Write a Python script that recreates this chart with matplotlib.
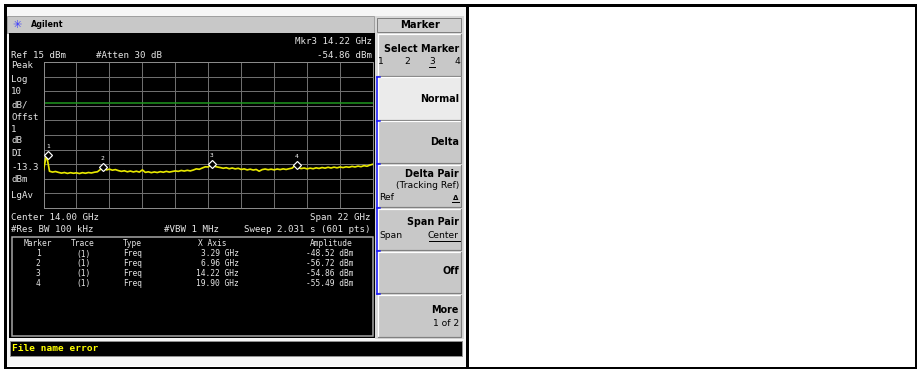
import numpy as np
import matplotlib
matplotlib.use("Agg")
import matplotlib.pyplot as plt
from matplotlib.patches import Rectangle

# Trace (dBm), one value every 0.2 GHz from 3 to 25 GHz
trace_dbm = [
    -59.0, -48.5, -59.8, -60.4, -60.0, -60.6, -61.1, -60.7, -61.3, -60.8,
    -61.2, -60.9, -61.4, -60.8, -61.2, -60.7, -61.0, -60.5, -60.2, -58.6,
    -57.0, -58.9, -58.4, -59.1, -58.7, -59.4, -59.9, -59.5, -60.2, -59.7,
    -60.3, -59.8, -60.4, -58.9, -60.6, -60.2, -60.8, -60.3, -60.7, -60.1,
    -60.5, -59.9, -60.4, -60.0, -59.6, -59.9, -59.3, -59.7, -59.2, -59.6,
    -59.0, -58.2, -58.5, -57.6, -56.8, -56.9, -55.2, -56.4, -56.9, -57.3,
    -57.8, -57.4, -58.1, -57.6, -58.2, -57.8, -58.6, -58.2, -58.9, -58.4,
    -59.0, -58.6, -59.8, -58.7, -58.3, -58.8, -58.4, -58.9, -58.3, -58.7,
    -58.2, -58.6, -58.1, -57.7, -55.8, -57.3, -58.0, -57.6, -58.2, -57.7,
    -58.1, -57.5, -57.9, -57.3, -57.7, -57.1, -57.6, -57.0, -57.5, -56.9,
    -57.3, -56.8, -57.1, -56.5, -56.9, -56.3, -56.7, -56.0, -56.4, -55.6,
    -55.0,
]
start_ghz, stop_ghz = 3.0, 25.0
ref_level = 15
db_per_div = 10
display_line = -13.3

marker_ids = [1, 2, 3, 4]
marker_freq = [3.29, 6.96, 14.22, 19.90]
marker_amp = [-48.52, -56.72, -54.86, -55.49]

left_labels = ["Peak", "Log", "10", "dB/", "Offst", "1", "dB", "DI", "-13.3", "dBm", "LgAv"]
table_headers = ["Marker", "Trace", "Type", "X Axis", "Amplitude"]

W, H = 917, 369
fig = plt.figure(figsize=(W / 100, H / 100), dpi=100)
fig.patch.set_facecolor("white")
ax = fig.add_axes([0, 0, 1, 1])
ax.set_xlim(0, W)
ax.set_ylim(H, 0)
ax.axis("off")

MONO = "DejaVu Sans Mono"
SANS = "DejaVu Sans"
SCR = "#e6e6e6"


def box(x0, y0, x1, y1, fc, ec="none", lw=0, z=1):
    ax.add_patch(Rectangle((x0, y0), x1 - x0, y1 - y0, fc=fc, ec=ec, lw=lw, zorder=z))


def px(n):
    return n * 0.72


# screenshot background, title bar, display
box(6, 6, 466, 366, "#f6f6f6")
box(7, 16, 374, 33, "#c8c8c8", "#a0a0a0", px(1))
box(9, 33, 375, 338, "black")
box(375, 16, 464, 339, "#d8d8d8")

ax.text(17, 24.5, "\u2733", color="#3a3aff", fontsize=8, ha="center", va="center")
ax.text(31, 24.5, "Agilent", family=SANS, weight="bold", fontsize=5.8, va="center")

# softkey panel
box(377, 18, 461, 32, "#d0d0d0", "#808080", px(1))
ax.text(420, 25, "Marker", family=SANS, weight="bold", fontsize=7.2, ha="center", va="center")
buttons = [(34, 76), (77, 120), (121, 163), (165, 207), (209, 250), (252, 293), (295, 337)]
for i, (t, b) in enumerate(buttons):
    box(378, t, 461, b, "#ebebeb" if i == 1 else "#c8c8c8", z=2)
    ax.plot([378, 378, 461], [b, t, t], color="white", lw=px(1.2), zorder=3)
    ax.plot([378, 461, 461], [b, b, t], color="#808080", lw=px(1.2), zorder=3)

bkw = dict(family=SANS, weight="bold", fontsize=6.9, va="center", zorder=4)
rkw = dict(family=SANS, fontsize=6.6, va="center", zorder=4)
ax.text(459, 49, "Select Marker", ha="right", **bkw)
for n, xx in zip(marker_ids, [381, 407, 432, 457]):
    ax.text(xx, 61.5, str(n), ha="center", **rkw)
ax.plot([429, 435], [67, 67], color="black", lw=px(1), zorder=4)
ax.text(459, 99, "Normal", ha="right", **bkw)
ax.text(459, 142, "Delta", ha="right", **bkw)
ax.text(459, 174, "Delta Pair", ha="right", **bkw)
ax.text(459, 186, "(Tracking Ref)", ha="right", **rkw)
ax.text(379, 198, "Ref", ha="left", **rkw)
ax.text(458, 198, "\u0394", ha="right", family=SANS, weight="bold", fontsize=5,
        va="center", zorder=4)
ax.plot([452, 459], [202, 202], color="black", lw=px(1), zorder=4)
ax.text(459, 222, "Span Pair", ha="right", **bkw)
ax.text(379, 236, "Span", ha="left", **rkw)
ax.text(459, 236, "Center", ha="right", **rkw)
ax.plot([429, 460], [241, 241], color="black", lw=px(1), zorder=4)
ax.text(459, 271, "Off", ha="right", **bkw)
ax.text(459, 310, "More", ha="right", **bkw)
ax.text(459, 323, "1 of 2", ha="right", **rkw)

# blue bracket beside the active keys
ax.plot([376.5, 376.5], [77, 294], color="#1010ff", lw=px(1.5), zorder=5)
for t in [77, 120.5, 164, 208, 251, 294]:
    ax.plot([376.5, 380], [t, t], color="#1010ff", lw=px(1.5), zorder=5)

# status bar
box(10, 341, 462, 356, "black", "#909090", px(1))
ax.text(12, 348.5, "File name error", family=MONO, weight="bold", fontsize=6.8,
        color="#ffff00", va="center")

# outer frame and divider
ax.add_patch(Rectangle((4.5, 4.5), 911, 363, fc="none", ec="black", lw=px(3), zorder=10))
ax.plot([466.5, 466.5], [4.5, 367.5], color="black", lw=px(3), zorder=10)

# screen annotations
skw = dict(family=MONO, fontsize=6.6, color=SCR, va="center")
ax.text(372, 42, "Mkr3 14.22 GHz", ha="right", **skw)
ax.text(11, 55, "Ref 15 dBm", ha="left", **skw)
ax.text(96, 55, "#Atten 30 dB", ha="left", **skw)
ax.text(372, 55, "%.2f dBm" % marker_amp[2], ha="right", **skw)
for lab, yy in zip(left_labels, [66, 79.5, 91.5, 104.5, 117.5, 129.5, 140.5, 153, 167, 179.5, 195]):
    ax.text(11, yy, lab, ha="left", **skw)
ax.text(11, 217, "Center 14.00 GHz", ha="left", **skw)
ax.text(371, 217, "Span 22 GHz", ha="right", **skw)
ax.text(11, 229.5, "#Res BW 100 kHz", ha="left", **skw)
ax.text(164, 229.5, "#VBW 1 MHz", ha="left", **skw)
ax.text(370, 229.5, "Sweep 2.031 s (601 pts)", ha="right", **skw)

# marker table
box(12, 237, 373, 336, "none", "#a8a8a8", px(1.5), z=3)
tkw = dict(family=MONO, fontsize=5.7, color=SCR, va="center")
hx = [38, 83, 123, 212, 353]
hal = ["center", "center", "left", "center", "right"]
for h, xx, a in zip(table_headers, hx, hal):
    ax.text(xx, 244, h, ha=a, **tkw)
for k, (m, f, a) in enumerate(zip(marker_ids, marker_freq, marker_amp)):
    yy = 254 + k * 9.8
    ax.text(38, yy, str(m), ha="center", **tkw)
    ax.text(83, yy, "(1)", ha="center", **tkw)
    ax.text(123, yy, "Freq", ha="left", **tkw)
    ax.text(239, yy, "%.2f GHz" % f, ha="right", **tkw)
    ax.text(353, yy, "%.2f dBm" % a, ha="right", **tkw)

# graticule
gx0, gx1, gy0, gy1 = 43.5, 373, 62, 208
g = fig.add_axes([gx0 / W, 1 - gy1 / H, (gx1 - gx0) / W, (gy1 - gy0) / H])
g.set_facecolor("black")
g.set_xlim(start_ghz, stop_ghz)
g.set_ylim(ref_level - 10 * db_per_div, ref_level)
g.set_xticks(np.linspace(start_ghz, stop_ghz, 11))
g.set_yticks(np.arange(ref_level - 10 * db_per_div, ref_level + 1, db_per_div))
g.grid(True, color="#6e6e6e", lw=px(1))
g.tick_params(length=0, labelbottom=False, labelleft=False)
for s in g.spines.values():
    s.set_color("#8a8a8a")
    s.set_linewidth(px(1))
g.axhline(display_line, color="#1f9a1f", lw=px(1.5), zorder=2)

freq = np.linspace(start_ghz, stop_ghz, len(trace_dbm))
g.plot(freq, trace_dbm, color="#e8e800", lw=px(1.7), zorder=3)
g.plot(marker_freq, marker_amp, ls="none", marker="D", ms=4, mfc="black", mec="white",
       mew=px(1.2), zorder=4)
for m, f, a in zip(marker_ids, marker_freq, marker_amp):
    g.annotate(str(m), (f, a), xytext=(0, 6), textcoords="offset points", ha="center",
               va="center", color="white", fontsize=4.5, family=MONO, zorder=5)

fig.savefig("out.png", dpi=100, facecolor="white")
